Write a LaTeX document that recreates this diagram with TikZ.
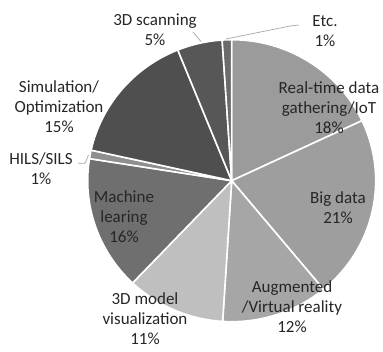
\documentclass[tikz,border=0pt]{standalone}
\usepackage{fontspec}
\setmainfont{Carlito}
\definecolor{txt}{HTML}{262626}
\definecolor{leadc}{HTML}{A6A6A6}
\definecolor{cRealtime}{HTML}{9B9B9B}
\definecolor{cBigdata}{HTML}{9E9E9E}
\definecolor{cArvr}{HTML}{A6A6A6}
\definecolor{cModel}{HTML}{BFBFBF}
\definecolor{cMlearn}{HTML}{6F6F6F}
\definecolor{cHils}{HTML}{8F8F8F}
\definecolor{cSimopt}{HTML}{4F4F4F}
\definecolor{cScan}{HTML}{575757}
\definecolor{cEtc}{HTML}{6B6B6B}
\begin{document}
\begin{tikzpicture}[x=1pt, y=1pt, line join=round, line cap=round,
		font=\fontsize{17}{20}\selectfont,
		lbl/.style={align=center, text=txt, inner sep=0pt},
		leader/.style={draw=leadc, line width=0.7pt, line cap=butt}]
	\def\rx{144}\def\ry{141}
	\useasboundingbox (-231.7,-170.3) rectangle (151.3,180.7);
	% slices, clockwise from the top
	\foreach \a/\b/\c in {25.2/90/cRealtime, -50.4/25.2/cBigdata, -93.6/-50.4/cArvr,
		-133.5/-93.6/cModel, -189/-133.5/cMlearn, -192.5/-189/cHils,
		-248/-192.5/cSimopt, -266.2/-248/cScan, -270/-266.2/cEtc}
		\filldraw[fill=\c, draw=white, line width=1.6pt] (0,0) -- (\a:\rx\space and \ry) arc[start angle=\a, end angle=\b, x radius=\rx, y radius=\ry] -- cycle;
	% labels
	\node[lbl] (realtime) at (97.3,72.7) {Real-time data\\gathering/IoT\\18\%};
	\node[lbl] (bigdata) at (106.3,-26.8) {Big data\\21\%};
	\node[lbl] (arvr) at (60.3,-126.3) {Augmented\\/Virtual reality\\12\%};
	\node[lbl] (model3d) at (-86.7,-138.3) {3D model\\visualization\\11\%};
	\node[lbl] (mlearn) at (-107.7,-36.3) {Machine\\learing\\16\%};
	\node[lbl] (hils) at (-190.7,12.2) {HILS/SILS\\1\%};
	\node[lbl] (simopt) at (-172.7,73.7) {Simulation/\\Optimization\\15\%};
	\node[lbl] (scan3d) at (-76.7,150.7) {3D scanning\\5\%};
	\node[lbl] (etc) at (93.3,149.7) {Etc.\\1\%};
	% leader lines
	\coordinate (scanA) at (-30.7,139.2);
	\coordinate (scanB) at (-38.7,148.7);
	\coordinate (etcA) at (-5.7,141.7);
	\coordinate (etcB) at (58.3,154.7);
	\coordinate (etcC) at (67.3,155.7);
	\coordinate (hilsA) at (-143.2,25.7);
	\coordinate (hilsB) at (-146.7,17.4);
	\coordinate (hilsC) at (-153.7,17.4);
	\draw[leader] (scanA) -- (scanB);
	\draw[leader] (etcA) -- (etcB) -- (etcC);
	\draw[leader] (hilsA) -- (hilsB) -- (hilsC);
\end{tikzpicture}
\end{document}
